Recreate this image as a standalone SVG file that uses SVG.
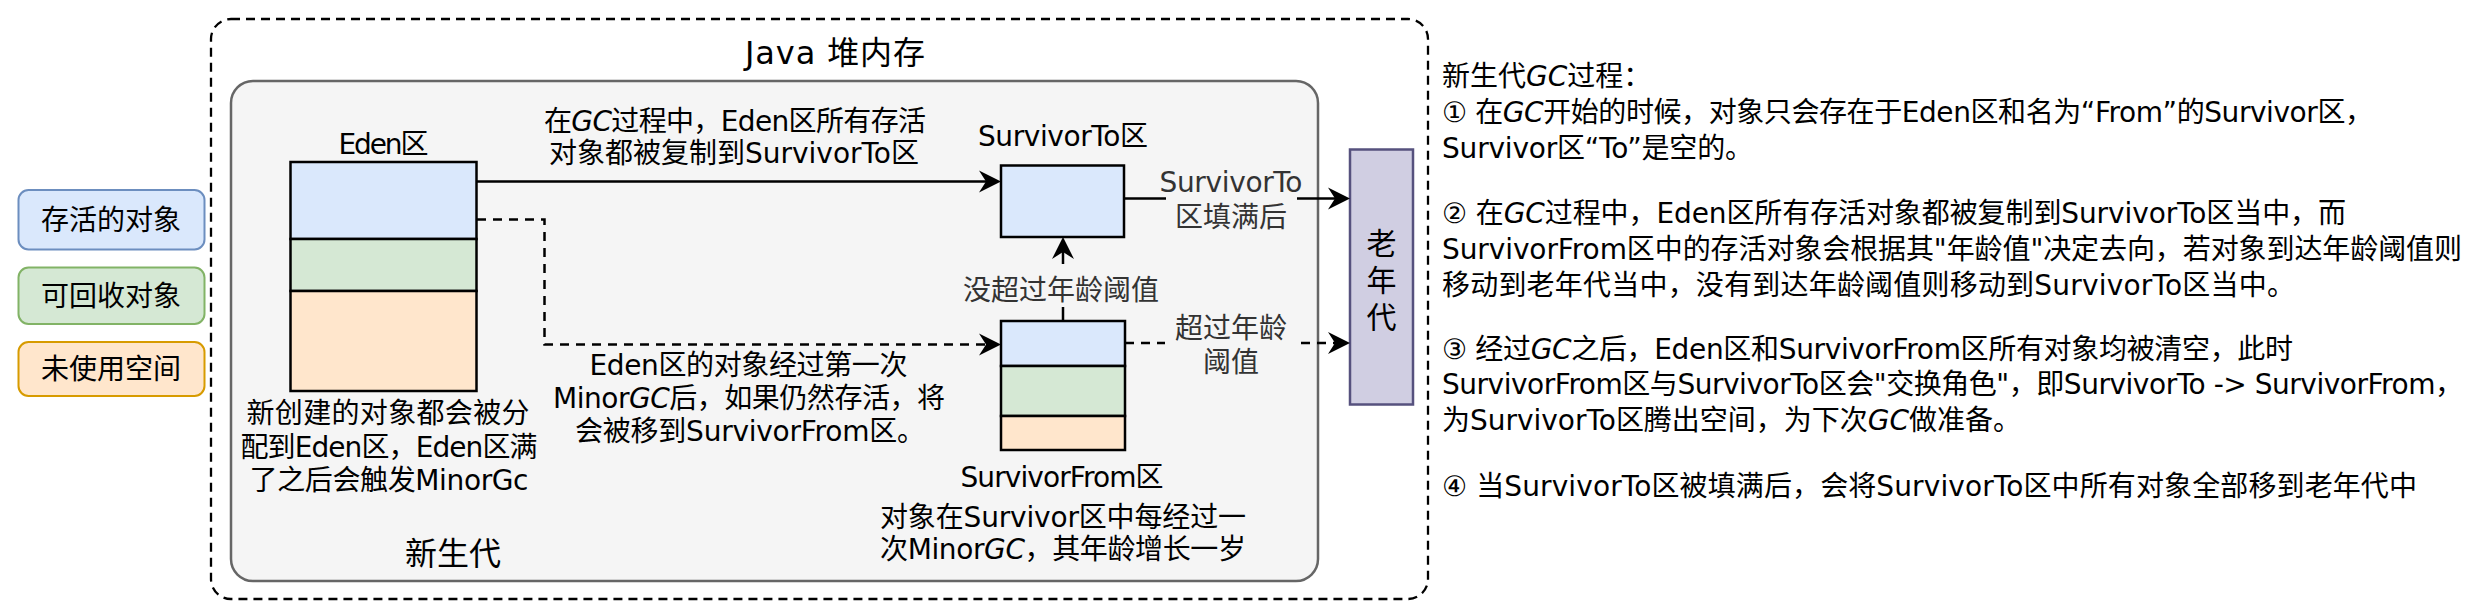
<svg xmlns="http://www.w3.org/2000/svg" width="2474" height="614" viewBox="0 0 2474 614">
<style>
  text { font-family: "DejaVu Sans", "Noto Sans CJK SC", sans-serif; fill: #000; font-size: 28px; }
  .mid { text-anchor: middle; }
  .edge { fill: #333; }
  .i { font-style: italic; }
  .cell { stroke: #000; stroke-width: 2.5; }
  .blue { fill: #dae8fc; }
  .green { fill: #d5e8d4; }
  .orange { fill: #ffe6cc; }
  .conn { fill: none; stroke: #000; stroke-width: 2.5; }
  .dash { stroke-dasharray: 9 7; }
  .lbg { fill: #f5f5f5; }
</style>
<defs>
  <marker id="ah" viewBox="-23 -12 25 24" refX="-15" refY="0" markerWidth="25" markerHeight="24" markerUnits="userSpaceOnUse" orient="auto">
    <path d="M0,0 L-22,-11 L-15,0 L-22,11 Z" fill="#000"/>
  </marker>
</defs>
<rect x="0" y="0" width="2474" height="614" fill="#fff"/>

<g id="heap">
  <rect x="211" y="19" width="1217" height="580" rx="20" fill="none" stroke="#000" stroke-width="2.3" stroke-dasharray="9 6"/>
  <text x="835" y="64" class="mid" style="font-size:32px" textLength="180" lengthAdjust="spacing">Java 堆内存</text>
</g>

<g id="young">
  <rect x="231" y="81" width="1087" height="500" rx="22" fill="#f5f5f5" stroke="#666" stroke-width="2.5"/>
  <text x="453" y="565" class="mid" style="font-size:32px">新生代</text>
</g>

<g id="legend-live">
  <rect x="18.5" y="190" width="186" height="59.5" rx="10" fill="#dae8fc" stroke="#6c8ebf" stroke-width="2"/>
  <text x="111" y="230" class="mid">存活的对象</text>
</g>
<g id="legend-garbage">
  <rect x="18.5" y="267.5" width="186" height="56.5" rx="10" fill="#d5e8d4" stroke="#82b366" stroke-width="2"/>
  <text x="111" y="306" class="mid">可回收对象</text>
</g>
<g id="legend-free">
  <rect x="18.5" y="342" width="186" height="54" rx="10" fill="#ffe6cc" stroke="#d79b00" stroke-width="2"/>
  <text x="111" y="379" class="mid">未使用空间</text>
</g>

<g id="eden">
  <text x="383.5" y="154" class="mid" textLength="90" lengthAdjust="spacing">Eden区</text>
  <rect x="290.5" y="162" width="186" height="77" class="cell blue"/>
  <rect x="290.5" y="239" width="186" height="52" class="cell green"/>
  <rect x="290.5" y="291" width="186" height="100" class="cell orange"/>
  <text x="388" y="423" class="mid" textLength="283" lengthAdjust="spacing">新创建的对象都会被分</text>
  <text x="389" y="457" class="mid" textLength="297" lengthAdjust="spacing">配到Eden区，Eden区满</text>
  <text x="389" y="490" class="mid" textLength="279" lengthAdjust="spacing">了之后会触发MinorGc</text>
</g>

<g id="survivor-to">
  <text x="1063" y="146" class="mid" textLength="170" lengthAdjust="spacing">SurvivorTo区</text>
  <rect x="1001" y="165.5" width="123" height="71.5" class="cell blue"/>
</g>

<g id="survivor-from">
  <rect x="1001" y="321" width="124" height="45" class="cell blue"/>
  <rect x="1001" y="366" width="124" height="50" class="cell green"/>
  <rect x="1001" y="416" width="124" height="34" class="cell orange"/>
  <text x="1062" y="487" class="mid" textLength="203" lengthAdjust="spacing">SurvivorFrom区</text>
  <text x="1063" y="527" class="mid" textLength="366" lengthAdjust="spacing">对象在Survivor区中每经过一</text>
  <text x="1063" y="559" class="mid" textLength="366" lengthAdjust="spacing">次Minor<tspan class="i">GC</tspan>，其年龄增长一岁</text>
</g>

<g id="old">
  <rect x="1350" y="149.5" width="63" height="255" fill="#d0cee2" stroke="#56517e" stroke-width="2.5"/>
  <text x="1381.5" y="254" class="mid" style="font-size:30px">老</text>
  <text x="1381.5" y="291" class="mid" style="font-size:30px">年</text>
  <text x="1381.5" y="328" class="mid" style="font-size:30px">代</text>
</g>

<g id="connectors">
  <path class="conn" d="M477,181.5 H986" marker-end="url(#ah)"/>
  <path class="conn dash" d="M477,219.5 H544.5 V344.5 H986" marker-end="url(#ah)"/>
  <path class="conn" d="M1063,321 V252" marker-end="url(#ah)"/>
  <path class="conn" d="M1124,198.5 H1335" marker-end="url(#ah)"/>
  <path class="conn dash" d="M1125,343 H1335" marker-end="url(#ah)"/>

  <text x="735" y="131" class="mid" textLength="382" lengthAdjust="spacing">在<tspan class="i">GC</tspan>过程中，Eden区所有存活</text>
  <text x="734" y="163" class="mid" textLength="370" lengthAdjust="spacing">对象都被复制到SurvivorTo区</text>

  <text x="748.5" y="375" class="mid" textLength="318" lengthAdjust="spacing">Eden区的对象经过第一次</text>
  <text x="749" y="408" class="mid" textLength="392" lengthAdjust="spacing">Minor<tspan class="i">GC</tspan>后，如果仍然存活，将</text>
  <text x="750" y="441" class="mid" textLength="350" lengthAdjust="spacing">会被移到SurvivorFrom区。</text>

  <rect x="960" y="264" width="204" height="43" class="lbg"/>
  <text x="1061" y="300" class="mid edge">没超过年龄阈值</text>

  <rect x="1166" y="170" width="131" height="64" class="lbg"/>
  <text x="1231" y="192" class="mid edge" textLength="143" lengthAdjust="spacing">SurvivorTo</text>
  <text x="1231" y="227" class="mid edge">区填满后</text>

  <rect x="1165" y="313" width="132" height="66" class="lbg"/>
  <text x="1231" y="338" class="mid edge">超过年龄</text>
  <text x="1231" y="372" class="mid edge">阈值</text>
</g>

<g id="notes">
  <text x="1442" y="86">新生代<tspan class="i">GC</tspan>过程：</text>
  <text x="1442" y="122" textLength="931" lengthAdjust="spacing">① 在<tspan class="i">GC</tspan>开始的时候，对象只会存在于Eden区和名为“From”的Survivor区，</text>
  <text x="1442" y="158" textLength="311" lengthAdjust="spacing">Survivor区“To”是空的。</text>
  <text x="1442" y="223" textLength="904" lengthAdjust="spacing">② 在<tspan class="i">GC</tspan>过程中，Eden区所有存活对象都被复制到SurvivorTo区当中，而</text>
  <text x="1442" y="259" textLength="1020" lengthAdjust="spacing">SurvivorFrom区中的存活对象会根据其"年龄值"决定去向，若对象到达年龄阈值则</text>
  <text x="1442" y="295" textLength="853" lengthAdjust="spacing">移动到老年代当中，没有到达年龄阈值则移动到SurvivorTo区当中。</text>
  <text x="1442" y="359" textLength="851" lengthAdjust="spacing">③ 经过<tspan class="i">GC</tspan>之后，Eden区和SurvivorFrom区所有对象均被清空，此时</text>
  <text x="1442" y="394" textLength="1021" lengthAdjust="spacing">SurvivorFrom区与SurvivorTo区会"交换角色"，即SurvivorTo -&gt; SurvivorFrom，</text>
  <text x="1442" y="430" textLength="579" lengthAdjust="spacing">为SurvivorTo区腾出空间，为下次<tspan class="i">GC</tspan>做准备。</text>
  <text x="1442" y="496" textLength="975" lengthAdjust="spacing">④ 当SurvivorTo区被填满后，会将SurvivorTo区中所有对象全部移到老年代中</text>
</g>
</svg>
